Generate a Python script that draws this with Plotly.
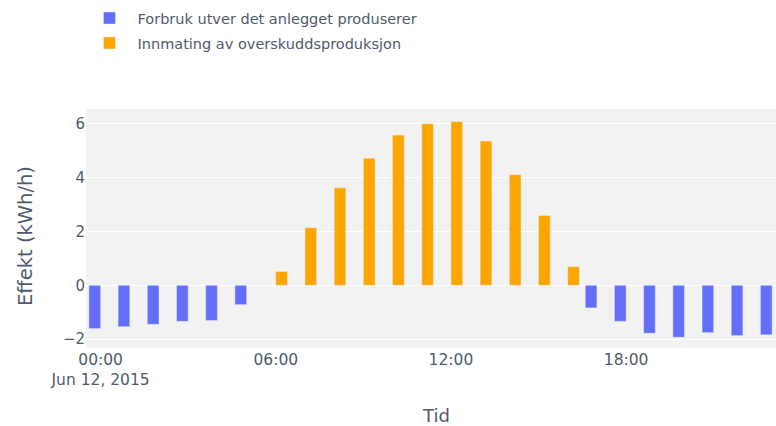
import plotly.graph_objects as go
import pandas as pd

hours = pd.date_range("2015-06-12 00:00", periods=24, freq="h")
forbruk = [-1.61, -1.54, -1.45, -1.34, -1.31, -0.72, None, None, None, None, None, None,
           None, None, None, None, None, -0.84, -1.34, -1.78, -1.93, -1.76, -1.87, -1.84]
innmating = [None, None, None, None, None, None, 0.51, 2.14, 3.62, 4.72, 5.58, 6.00,
             6.08, 5.36, 4.11, 2.59, 0.69, None, None, None, None, None, None, None]
y_ticks = [-2, 0, 2, 4, 6]

FONT = "DejaVu Sans"
TXT = "#4f5b6e"

fig = go.Figure()
fig.add_trace(go.Bar(x=hours, y=forbruk, name="Forbruk utver det anlegget produserer",
                     marker_color="#636efa", legendgroup="a"))
fig.add_trace(go.Bar(x=hours, y=innmating, name="Innmating av overskuddsproduksjon",
                     marker_color="#ffa500", legendgroup="b"))

fig.update_layout(
    width=776, height=426,
    barmode="group",
    margin=dict(l=86, r=0, t=109, b=78, autoexpand=False),
    paper_bgcolor="white",
    plot_bgcolor="#f2f2f2",
    font=dict(family=FONT, size=15, color=TXT),
    legend=dict(xref="container", yref="container", x=0.105, y=0.995,
                xanchor="left", yanchor="top", itemwidth=46,
                font=dict(size=14.5, color=TXT), tracegroupgap=3,
                traceorder="grouped", bgcolor="rgba(0,0,0,0)"),
    xaxis=dict(range=["2015-06-11 23:30", "2015-06-12 23:08"],
               dtick=6 * 3600 * 1000, tick0="2015-06-12 00:00",
               showgrid=False, zeroline=False, ticks="", automargin=False,
               tickfont=dict(size=15.5)),
    yaxis=dict(range=[-2.33, 6.55], tickvals=y_ticks, automargin=False,
               gridcolor="white", gridwidth=1, zeroline=True,
               zerolinecolor="white", zerolinewidth=1, ticks="",
               tickfont=dict(size=15)),
    annotations=[
        dict(text="Effekt (kWh/h)", xref="paper", yref="paper", x=-0.0884, y=0.4686,
             textangle=-90, showarrow=False, xanchor="center", yanchor="middle",
             font=dict(size=19.5, color=TXT)),
        dict(text="Tid", xref="paper", yref="paper", x=0.507, y=-0.2845,
             showarrow=False, xanchor="center", yanchor="middle",
             font=dict(size=18, color=TXT)),
    ],
)

fig.write_html("out.html")
